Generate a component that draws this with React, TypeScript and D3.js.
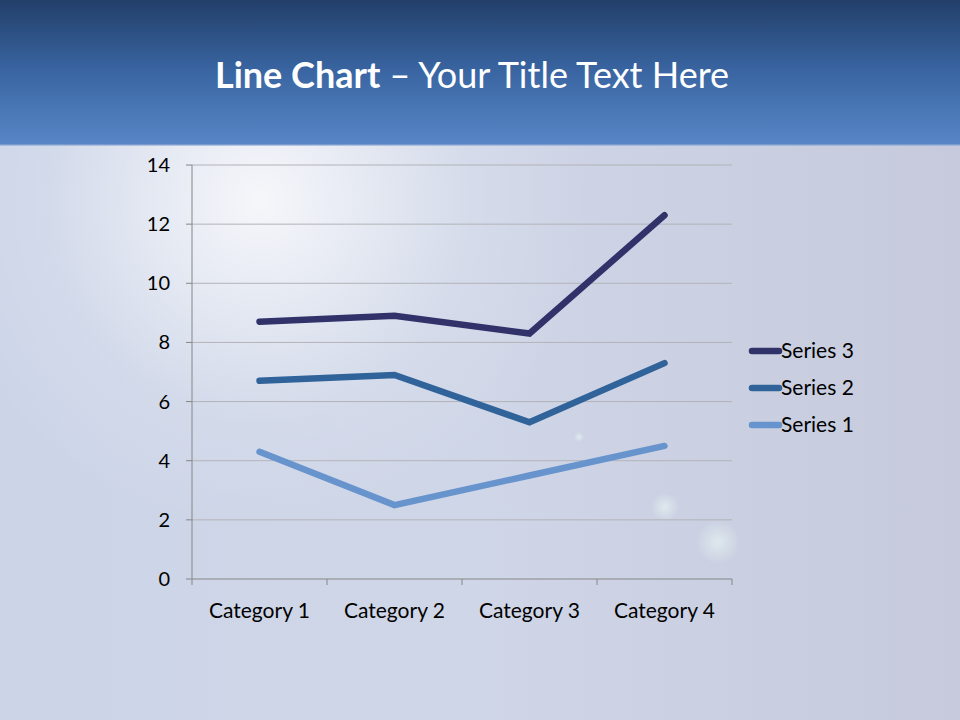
import React from "react";
import * as d3 from "d3";

const categories = ["Category 1", "Category 2", "Category 3", "Category 4"];
const series1 = [4.3, 2.5, 3.5, 4.5];
const series2 = [6.7, 6.9, 5.3, 7.3];
const series3 = [8.7, 8.9, 8.3, 12.3];
const yTicks = [0, 2, 4, 6, 8, 10, 12, 14];
const seriesNames = ["Series 1", "Series 2", "Series 3"];
const seriesColors = ["#6894cd", "#2f6399", "#32326a"];

const W = 960, H = 720;
const plot = { left: 192, right: 732, top: 165, bottom: 579 };
const FONT = "Lato, 'Open Sans', sans-serif";

export default function App() {
  const x = d3.scaleBand<string>().domain(categories).range([plot.left, plot.right]);
  const y = d3.scaleLinear().domain([0, 14]).range([plot.bottom, plot.top]);
  const allSeries = [series1, series2, series3];
  const line = d3.line<number>()
    .x((_, i) => (x(categories[i]) as number) + x.bandwidth() / 2)
    .y((v) => y(v));
  const bounds = [...categories.map((c) => x(c) as number), plot.right];
  const legendOrder = [2, 1, 0];

  return (
    <svg width={W} height={H} style={{ position: "absolute", left: 0, top: 0 }}>
      <defs>
        <linearGradient id="hdr" x1="0" y1="0" x2="0" y2="1">
          <stop offset="0" stopColor="#223f69" />
          <stop offset="0.5" stopColor="#3a66a3" />
          <stop offset="1" stopColor="#5886c6" />
        </linearGradient>
        <linearGradient id="body" x1="0" y1="0" x2="1" y2="0">
          <stop offset="0" stopColor="#ccd5e8" />
          <stop offset="0.5" stopColor="#cfd6e7" />
          <stop offset="1" stopColor="#c6cadc" />
        </linearGradient>
        <radialGradient id="glare" cx="260" cy="200" r="330" gradientUnits="userSpaceOnUse">
          <stop offset="0" stopColor="#ffffff" stopOpacity="0.8" />
          <stop offset="0.3" stopColor="#ffffff" stopOpacity="0.5" />
          <stop offset="0.65" stopColor="#ffffff" stopOpacity="0.12" />
          <stop offset="1" stopColor="#ffffff" stopOpacity="0" />
        </radialGradient>
        <radialGradient id="flare" cx="0.5" cy="0.5" r="0.5">
          <stop offset="0" stopColor="#e6f4f2" stopOpacity="0.7" />
          <stop offset="1" stopColor="#e6f4f2" stopOpacity="0" />
        </radialGradient>
      </defs>
      <rect x={0} y={0} width={W} height={H} fill="url(#body)" />
      <rect x={0} y={145} width={W} height={H - 145} fill="url(#glare)" />
      <circle cx={665} cy={507} r={14} fill="url(#flare)" />
      <circle cx={718} cy={542} r={22} fill="url(#flare)" />
      <circle cx={579} cy={437} r={5} fill="url(#flare)" />
      <rect x={0} y={0} width={W} height={145} fill="url(#hdr)" />
      <rect x={0} y={144} width={W} height={2} fill="#8ea9d4" opacity={0.6} />
      <text x={472} y={88} textAnchor="middle" fill="#ffffff" fontFamily={FONT} fontSize={36}>
        <tspan fontWeight="bold">Line Chart</tspan>
        <tspan> – Your Title Text Here</tspan>
      </text>

      {yTicks.map((t) => (
        <g key={t}>
          {t > 0 && (
            <line x1={plot.left} x2={plot.right} y1={y(t)} y2={y(t)} stroke="#b3b3b8" strokeWidth={1} />
          )}
          <line x1={plot.left - 6} x2={plot.left} y1={y(t)} y2={y(t)} stroke="#868686" strokeWidth={1} />
          <text x={170} y={y(t)} dy="0.35em" textAnchor="end" fontFamily={FONT} fontSize={20} fill="#000">
            {t}
          </text>
        </g>
      ))}
      <line x1={plot.left} x2={plot.left} y1={plot.top} y2={plot.bottom} stroke="#868686" strokeWidth={1} />
      <line x1={plot.left} x2={plot.right} y1={plot.bottom} y2={plot.bottom} stroke="#868686" strokeWidth={1} />
      {bounds.map((b, i) => (
        <line key={i} x1={b} x2={b} y1={plot.bottom} y2={plot.bottom + 6} stroke="#868686" strokeWidth={1} />
      ))}
      {categories.map((c) => (
        <text key={c} x={(x(c) as number) + x.bandwidth() / 2} y={618} textAnchor="middle" fontFamily={FONT} fontSize={21} fill="#000">
          {c}
        </text>
      ))}

      {allSeries.map((s, i) => (
        <path key={i} d={line(s) || ""} fill="none" stroke={seriesColors[i]} strokeWidth={6.5} strokeLinecap="round" strokeLinejoin="miter" />
      ))}

      {legendOrder.map((si, k) => {
        const ly = 351 + k * 37;
        return (
          <g key={si}>
            <line x1={752} x2={779} y1={ly} y2={ly} stroke={seriesColors[si]} strokeWidth={6.5} strokeLinecap="round" />
            <text x={781} y={ly} dy="0.35em" fontFamily={FONT} fontSize={21} fill="#000">
              {seriesNames[si]}
            </text>
          </g>
        );
      })}
    </svg>
  );
}
